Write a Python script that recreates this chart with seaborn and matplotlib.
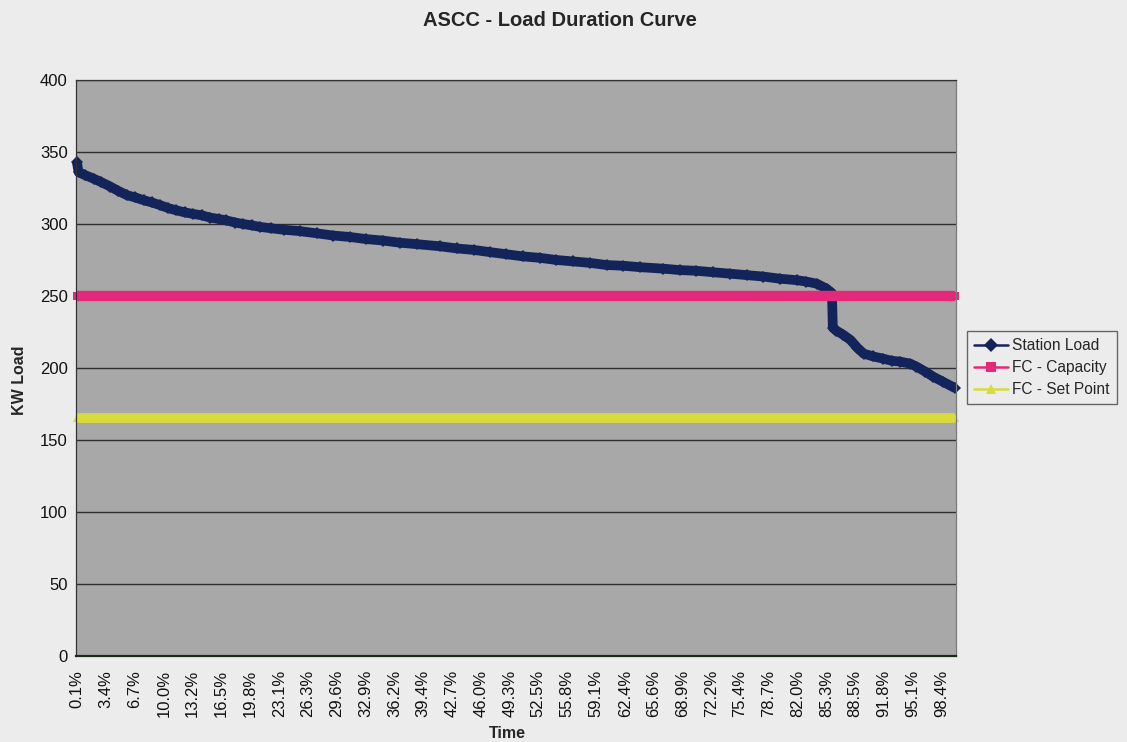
import matplotlib
matplotlib.use("Agg")
import matplotlib.pyplot as plt
from matplotlib.lines import Line2D
from matplotlib.ticker import MultipleLocator
import pandas as pd
import seaborn as sns

#-- Data --#
time_pct = [0.1, 0.3, 1.0, 2.0, 2.9, 3.9, 4.8, 5.8, 6.7, 7.7, 8.6, 9.6, 10.5, 11.4,
            12.4, 13.3, 14.3, 15.2, 16.2, 17.1, 18.1, 19.0, 20.0, 20.9, 22.2, 23.6,
            25.5, 27.4, 29.2, 31.1, 33.0, 34.9, 36.8, 38.7, 41.4, 43.3, 45.2, 47.0,
            48.9, 50.8, 52.7, 54.6, 56.5, 58.4, 60.3, 62.2, 64.1, 66.7, 68.6, 70.5,
            72.4, 74.3, 76.2, 78.1, 80.0, 81.9, 83.0, 84.2, 85.3, 85.9, 86.0, 86.4,
            87.2, 88.0, 88.8, 89.5, 90.6, 91.7, 92.7, 93.6, 94.8, 95.5, 96.5, 97.4,
            98.5, 99.9]
station_load = [343, 336, 334, 331.5, 329, 326, 323, 320, 318.5, 316.5, 315, 313, 311,
                309.5, 308, 307, 306, 304.5, 303.5, 302.5, 301, 300, 299, 298, 297, 296,
                295, 293.5, 292, 291, 289.5, 288.5, 287, 286, 284.5, 283, 282, 280.5,
                279, 277.5, 276.5, 275, 274, 273, 271.5, 271, 270, 269, 268, 267.5,
                266.5, 265.5, 264.5, 263.5, 262, 261, 260, 258.5, 255, 252, 228, 226,
                223, 219.5, 214, 210, 208, 206.5, 205, 204.5, 203, 201, 197.5, 194,
                190.5, 186]
fc_capacity = 250
fc_set_point = 165

tick_labels = ["0.1%", "3.4%", "6.7%", "10.0%", "13.2%", "16.5%", "19.8%", "23.1%",
               "26.3%", "29.6%", "32.9%", "36.2%", "39.4%", "42.7%", "46.0%", "49.3%",
               "52.5%", "55.8%", "59.1%", "62.4%", "65.6%", "68.9%", "72.2%", "75.4%",
               "78.7%", "82.0%", "85.3%", "88.5%", "91.8%", "95.1%", "98.4%"]
y_ticks = [0, 50, 100, 150, 200, 250, 300, 350, 400]

df = pd.DataFrame({"Time": time_pct, "Station Load": station_load})
df["FC - Capacity"] = fc_capacity
df["FC - Set Point"] = fc_set_point

#-- Style --#
sns.set_style("white")
plt.rcParams["font.family"] = ["Liberation Sans", "DejaVu Sans"]

page_bg = "#ececec"
plot_bg = "#a8a8a8"
series = [
    # name, color, marker, line width
    ("Station Load", "#13245a", "D", 7),
    ("FC - Capacity", "#e2297a", "s", 7.5),
    ("FC - Set Point", "#d7dc3a", "^", 7),
]

fig = plt.figure(figsize=(11.27, 7.42), dpi=100, facecolor=page_bg)
ax = fig.add_axes([0.0674, 0.1159, 0.7809, 0.7763])
ax.set_facecolor(plot_bg)

for name, color, marker, lw in series:
    sns.lineplot(data=df, x="Time", y=name, ax=ax, color=color, linewidth=lw,
                 marker=marker, markersize=6, markeredgewidth=0,
                 legend=False, clip_on=False, solid_capstyle="butt")

ax.set_xlim(0, 100)
ax.set_ylim(0, 400)
ax.set_yticks(y_ticks)
ax.set_xticks([float(t.rstrip("%")) for t in tick_labels])
ax.set_xticklabels(tick_labels, rotation=90)
ax.xaxis.set_minor_locator(MultipleLocator(0.25))

ax.yaxis.grid(True, color="#2e2e2e", linewidth=1)
ax.xaxis.grid(False)
ax.set_axisbelow(True)

ax.tick_params(axis="y", length=4, width=0.8, color="#333333", labelsize=12, pad=2,
               labelcolor="#111111")
ax.tick_params(axis="x", which="major", length=5, width=0.8, color="#1c2a1c",
               labelsize=12, pad=5, labelcolor="#111111")
ax.tick_params(axis="x", which="minor", length=4, width=0.6, color="#1c2a1c")

for side in ["left", "top"]:
    ax.spines[side].set_color("#333333")
    ax.spines[side].set_linewidth(0.9)
ax.spines["bottom"].set_color("#1c2a1c")
ax.spines["bottom"].set_linewidth(1.6)
ax.spines["right"].set_color("#7a7a7a")
ax.spines["right"].set_linewidth(0.9)

ax.set_xlabel("")
ax.set_ylabel("")

fig.text(0.497, 0.973, "ASCC - Load Duration Curve", ha="center", va="center",
         fontsize=14.5, fontweight="bold",
         family=["Liberation Sans Narrow", "Liberation Sans", "DejaVu Sans"])
fig.text(0.017, 0.488, "KW Load", rotation=90, ha="center", va="center",
         fontsize=11.5, fontweight="bold")
fig.text(0.45, 0.011, "Time", ha="center", va="center", fontsize=11.5, fontweight="bold")

# Legend with thin lines like the original
handles = [Line2D([0], [0], color=c, marker=m, linewidth=1.8, markersize=7,
                  markeredgewidth=0) for _, c, m, _ in series]
leg = ax.legend(handles, [s[0] for s in series], loc="center left",
                bbox_to_anchor=(1.012, 0.5), fontsize=11.2, frameon=True,
                fancybox=False, handlelength=2.2, borderpad=0.45,
                labelspacing=0.45, handletextpad=0.3, borderaxespad=0)
leg.get_frame().set_facecolor(page_bg)
leg.get_frame().set_edgecolor("#444444")
leg.get_frame().set_linewidth(1.0)

plt.savefig("out.png", dpi=100, facecolor=page_bg)
